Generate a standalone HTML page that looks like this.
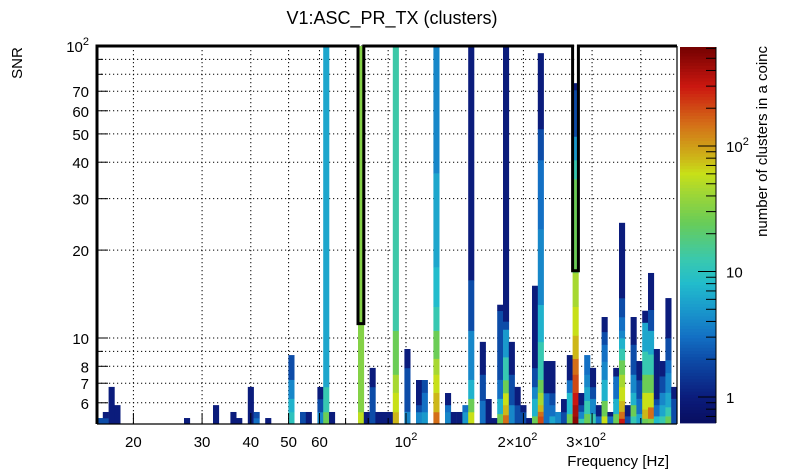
<!DOCTYPE html>
<html><head><meta charset="utf-8">
<style>
html,body{margin:0;padding:0;background:#fff;}
svg{display:block;font-family:"Liberation Sans",Arial,sans-serif;}
</style></head>
<body>
<svg id="chart" width="805" height="472" viewBox="0 0 805 472" xmlns="http://www.w3.org/2000/svg">
<rect x="0" y="0" width="805" height="472" fill="#fff"/>
<text x="392" y="24" font-size="18" text-anchor="middle">V1:ASC_PR_TX (clusters)</text>
<text transform="translate(22,63) rotate(-90)" font-size="15" text-anchor="middle">SNR</text>
<text x="669" y="466" font-size="15" text-anchor="end">Frequency [Hz]</text>
<text transform="translate(767,46) rotate(-90)" font-size="15" text-anchor="end">number of clusters in a coinc</text>
<g id="grid"></g>
<g id="cells"></g>
<g id="axes"></g>
<g id="cbar"></g>
</svg>
<script>
// ---- data ----
const binIndex = [0,1,2,3,15,20,23,24,26,27,29,33,35,36,38,39,40,45,46,47,48,49,50,51,53,55,56,58,60,61,62,63,64,66,67,68,69,70,71,72,73,74,75,76,77,78,79,80,81,82,83,84,85,86,87,88,89,90,91,92,93,94,95,96,97,98,99];
const segSNR = [
 [5.32],[5.32,5.58],[6.8],[5.89],[5.32],[5.89],[5.58],[5.32],[6.8],[5.32,5.58],[5.32],
 [5.58,6.2,7.2,8.74],[5.58],[5.58],[5.58,6.18,6.8],[5.58,6.8,100],[5.58],[5.58,100],[5.58],[6.8,7.9],[5.58],[5.58],[5.58],
 [5.58,6.5,7.5,10.6,100],[5.6,7.9,9.17],[5.58,5.9,7.18],[5.58,6.5,7.18],
 [5.58,6.5,7.5,8.5,10.6,12.8,17.5,36.7,100],[5.58,5.9,6.48],[5.58],[5.58],[5.58,5.89],
 [5.58,6.2,7.2,10.6,15.8,100],[6.1,7.5,9.7],[6.18],[5.32],[5.5,6.2,7.2,12.4,13],
 [5.45,5.9,6.48,7.18,8.6,10.7,11.4,100],[5.9,7.5,9.7],[5.89,6.8],[5.58,5.89],[5.32],
 [5.4,6.2,6.8,7.9,15.1],[5.4,5.6,5.9,6.5,7.2,9.7,13,23.6,40.7,52,94.5],[6.48,8.34],[5.4,5.9,6.48,8.34],[5.58],[5.58,6.18],
 [5.5,6.5,7.18,8.74],[5.4,5.9,6.5,7.5,8.5,10.2,12.8,16.7,35,40.7,49,70.7,74.6],[5.3,5.6,5.9,6.48],
 [5.5,6.1,6.8,7.5,8.74],[5.5,6.2,6.8,7.9],[5.4,5.89],[5.4,6.1,7.2,8.3,9.5,10.5,11.8],[5.4,5.58],[5.5,6.2,7.4,7.9],
 [5.3,5.6,6.1,6.8,7.5,8.4,9.2,10,10.6,11.8,13.7,24.8],[5.4,5.89],[5.4,5.9,6.5,7.5,9.5,11.8],[5.5,6.2,7.18,8.34],
 [5.3,5.7,6.5,7.5,9,11.3,12.4],[5.3,5.8,6.5,7.5,8.8,10.6,12.5,16.7],[5.4,5.9,6.18,9.17],[5.4,5.9,6.5,7.4,8.34],
 [5.4,5.8,6.5,7.6,8.4,10,13.7],[6.2,6.8]
];
const segCount = [
 [2],[2,1],[1],[1],[1],[1],[1],[1],[1],[3,2],[1],
 [10,7,4,2],[2],[1],[4,2,1],[25,12,6],[1],[55,32],[1],[2,1],[1],[1],[1],
 [80,60,45,25,13],[4,2,1],[4,2,1],[5,3,2],
 [150,80,60,45,25,12,8,6,4],[4,3,1],[1],[1],[5,3],
 [60,25,7,4,2,1],[3,2,1],[1],[1],[25,7,3,2,1],
 [150,80,60,25,12,5,2,1],[4,2,1],[2,1],[2,1],[1],
 [25,7,4,2,1],[200,150,80,45,25,12,7,4,3,2,1],[3,1],[6,3,2,1],[4],[2,1],
 [25,8,3,1],[500,400,300,200,150,80,60,45,25,12,5,2,1],[12,4,2,1],
 [25,12,6,4,3],[12,4,2,1],[3,1],[60,25,7,4,3,2,1],[3,1],[25,7,3,1],
 [300,150,80,60,45,25,12,7,4,3,2,1],[2,1],[12,25,7,4,2,1],[6,3,2,1],
 [25,80,60,25,12,6,1],[30,150,60,25,12,6,2,1],[8,3,2,1],[12,6,4,2,1],
 [25,12,6,4,3,2,1],[2,1]
];
const contourBins = [45,82];
const contourSNR = [11.2,17.0];
const xMajorTicks = [20,30,40,50,60,100,200,300];
const xMajorBase = ["20","30","40","50","60","10","2×10","3×10"];
const xMajorExp = ["","","","","","2","2","2"];
const xGridVals = [20,30,40,50,60,70,80,90,100,200,300,400];
const yTickVals = [6,7,8,9,10,20,30,40,50,60,70,80,90,100];
const yLabelVals = [6,7,8,10,20,30,40,50,60,70,100];
const yLabelBase = ["6","7","8","10","20","30","40","50","60","70","10"];
const yLabelExp = ["","","","","","","","","","","2"];
const cbarMajor = [1,10,100];
const cbarBase = ["1","10","10"];
const cbarExp = ["","","2"];

// ---- scales ----
const X0=97, X1=677, Y0=46, Y1=424, NB=100;
const BW=(X1-X0)/NB;
function xOfBin(k){return X0+k*BW;}
function xOfFreq(f){return 406+390*Math.log10(f/100);}
function yOfSNR(s){return Math.max(Y0,Math.min(Y1,338-292*Math.log10(s/10)));}
const CMIN=0.62, CMAX=631, CB0=47, CB1=423;
function yOfCount(c){return 397-125.5*Math.log10(c);}
const stops=[[0,[8,14,96]],[0.069,[11,28,124]],[0.169,[13,76,168]],[0.228,[19,112,196]],[0.30,[26,152,204]],[0.37,[34,188,204]],[0.43,[56,200,176]],[0.53,[104,204,88]],[0.62,[168,216,48]],[0.66,[200,224,24]],[0.70,[205,184,24]],[0.79,[212,112,24]],[0.89,[204,24,16]],[1,[112,0,0]]];
function color(c){
  let t=(Math.log10(c)-Math.log10(CMIN))/(Math.log10(CMAX)-Math.log10(CMIN));
  t=Math.max(0,Math.min(1,t));
  for(let i=1;i<stops.length;i++){
    if(t<=stops[i][0]){const a=stops[i-1],b=stops[i];const u=(t-a[0])/(b[0]-a[0]);
      const r=a[1].map((v,j)=>Math.round(v+(b[1][j]-v)*u));return `rgb(${r[0]},${r[1]},${r[2]})`;}
  }
  return 'rgb(112,0,0)';
}
const NS='http://www.w3.org/2000/svg';
function mk(tag,attrs,parent){const e=document.createElementNS(NS,tag);for(const k in attrs)e.setAttribute(k,attrs[k]);parent.appendChild(e);return e;}
function label(parent,x,y,anchor,base,exp){
  const tx=mk('text',{x:x,y:y,'font-size':15,'text-anchor':anchor},parent);
  const a=document.createElementNS(NS,'tspan');a.textContent=base;tx.appendChild(a);
  if(exp){const b=document.createElementNS(NS,'tspan');b.setAttribute('dy','-7');b.setAttribute('font-size','11');b.textContent=exp;tx.appendChild(b);}
  return tx;
}

// ---- grid ----
const grid=document.getElementById('grid');
xGridVals.forEach(f=>{const x=xOfFreq(f);
  const l=mk('line',{x1:x,x2:x,y1:Y0,y2:Y1,stroke:'#000','stroke-width':1,'stroke-dasharray':'1.2,2.8'},grid);
  
  });
yTickVals.forEach(s=>{const y=yOfSNR(s);
  const l=mk('line',{x1:X0,x2:X1,y1:y,y2:y,stroke:'#000','stroke-width':1,'stroke-dasharray':'1.2,2.8'},grid);
  
  });

// ---- cells ----
const cells=document.getElementById('cells');
binIndex.forEach((k,i)=>{
  const x=xOfBin(k); const w=Math.min(BW+0.3,X1-x);
  let lo=5.0;
  segSNR[i].forEach((hi,j)=>{
    const y2=yOfSNR(lo), y1=yOfSNR(hi);
    const r=mk('rect',{x:x,y:y1,width:w,height:Math.max(0,y2-y1+0.3),fill:color(segCount[i][j])},cells);
    
    
    lo=hi;
  });
});

// ---- axes ----
const axes=document.getElementById('axes');
const xa=mk('line',{x1:X0,x2:X1,y1:Y1,y2:Y1,stroke:'#000','stroke-width':1.2},axes);


const rf=mk('line',{x1:X1,x2:X1,y1:Y0,y2:Y1,stroke:'#000','stroke-width':1.2},axes);


let d=`M${X0},${Y1} L${X0},${Y0}`;
contourBins.forEach((k,i)=>{const xa=xOfBin(k),xb=xOfBin(k+1),yc=yOfSNR(contourSNR[i]);
  d+=` L${xa},${Y0} L${xa},${yc} L${xb},${yc} L${xb},${Y0}`;});
d+=` L${X1},${Y0}`;
const cp=mk('path',{d:d,fill:'none',stroke:'#000','stroke-width':3,'stroke-linejoin':'miter'},axes);


for(let dec=10;dec<=100;dec*=10){for(let m=1;m<10;m++){const f=dec*m;if(f<16||f>495)continue;
  const x=xOfFreq(f);const major=xMajorTicks.includes(f);
  const t=mk('line',{x1:x,x2:x,y1:Y1,y2:Y1-(major?11:6),stroke:'#000','stroke-width':1},axes);
  
  }}
xMajorTicks.forEach((f,i)=>{const tx=label(axes,xOfFreq(f)-(f>=200?6:0),447,'middle',xMajorBase[i],xMajorExp[i]);
  
  });
yTickVals.forEach(s=>{const y=yOfSNR(s);const major=yLabelVals.includes(s);
  const t=mk('line',{x1:X0,x2:X0+(major?11:6),y1:y,y2:y,stroke:'#000','stroke-width':1},axes);
  
  });
yLabelVals.forEach((s,i)=>{const tx=label(axes,89,yOfSNR(s)+6,'end',yLabelBase[i],yLabelExp[i]);
  
  });

// ---- colorbar ----
const cb=document.getElementById('cbar');
const CX=680, CW=36;
for(let i=0;i<120;i++){const ya=CB0+(CB1-CB0)*i/120, yb=CB0+(CB1-CB0)*(i+1)/120;
  const c=Math.pow(10,(397-(ya+yb)/2)/125.5);
  const r=mk('rect',{x:CX,y:ya,width:CW,height:yb-ya+0.4,fill:color(c)},cb);
  
  }
mk('line',{x1:CX+CW,x2:CX+CW,y1:CB0,y2:CB1,stroke:'#000','stroke-width':1},cb);
for(let dec=1;dec<=100;dec*=10){for(let m=1;m<10;m++){const c=dec*m;if(c<CMIN||c>CMAX)continue;
  const y=yOfCount(c);const major=m===1;
  const t=mk('line',{x1:CX+CW,x2:CX+CW-(major?18:10),y1:y,y2:y,stroke:'#000','stroke-width':1},cb);
  
  }}
for(let c=0.7;c<=0.9;c+=0.1){const y=yOfCount(c);mk('line',{x1:CX+CW,x2:CX+CW-10,y1:y,y2:y,stroke:'#000','stroke-width':1},cb);}
cbarMajor.forEach((c,i)=>{const tx=label(cb,726,yOfCount(c)+6,'start',cbarBase[i],cbarExp[i]);
  
  });
</script>
</body></html>
